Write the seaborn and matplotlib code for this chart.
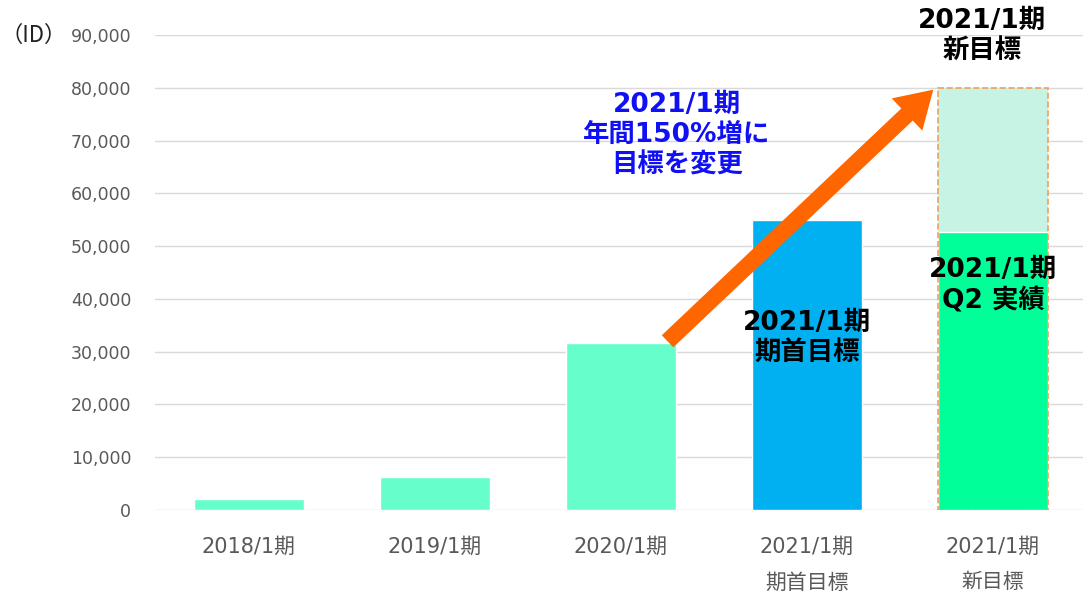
import matplotlib
matplotlib.use('Agg')
import matplotlib.pyplot as plt
import seaborn as sns

# データ
categories = ['2018/1期', '2019/1期', '2020/1期', '2021/1期\n期首目標', '2021/1期\n新目標']
values = [2000, 6200, 31600, 55000, 52600]
new_target = 80000
bar_colors = ['#66FFCC', '#66FFCC', '#66FFCC', '#00B0F0', '#00FF99']
y_ticks = list(range(0, 90001, 10000))

sns.set_theme(style='white')
plt.rcParams['font.family'] = ['DejaVu Sans', 'Noto Sans CJK JP']

fig = plt.figure(figsize=(10.83, 5.96), dpi=100)
ax = fig.add_axes([0.143, 0.1443, 0.857, 0.797])

bw = 0.59
# 新目標（背景）
ax.bar(4, new_target, width=bw, color='#C4F3E3', alpha=0.95, zorder=1, linewidth=0)

sns.barplot(x=categories, y=values, hue=categories, palette=bar_colors,
            width=bw, legend=False, ax=ax, zorder=2, saturation=1)

# 破線の枠
ax.bar(4, new_target, width=bw, fill=False, edgecolor='#F0A060', linestyle='--',
       linewidth=1.2, zorder=3)

ax.set_xlim(-0.505, 4.484)
ax.set_ylim(0, 90000)
ax.set_yticks(y_ticks)
ax.set_yticklabels([f'{v:,}' for v in y_ticks], color='#595959', fontsize=12.5)
ax.set_xticks(range(len(categories)))
ax.set_xticklabels(categories, color='#595959', fontsize=15, linespacing=2.0, va='top')
ax.tick_params(axis='x', pad=19, length=0)
ax.tick_params(axis='y', pad=17, length=0)
ax.yaxis.grid(True, color='#D9D9D9', linewidth=1)
ax.set_axisbelow(True)
for s in ax.spines.values():
    s.set_visible(False)
ax.set_xlabel('')
ax.set_ylabel('')

fig.text(0.0, 0.941, '（ID）', fontsize=16, color='#222222', va='center', ha='left',
         family=['Noto Sans CJK JP'])

# 矢印
ax.annotate('', xy=(3.69, new_target), xytext=(2.24, values[2]),
            arrowprops=dict(arrowstyle='simple,head_width=1.6,head_length=1.3,tail_width=0.6',
                            color='#FF6600', lw=0, mutation_scale=20),
            zorder=4, annotation_clip=False)

lab = dict(fontsize=19, fontweight='bold', ha='center', va='center', linespacing=1.2)
ax.text(2.30, 71000, '2021/1期\n年間150%増に\n目標を変更', color='#1010F5', **lab)
ax.text(3.0, 32600, '2021/1期\n期首目標', color='black', **lab)
ax.text(4.0, 42600, '2021/1期\nQ2 実績', color='black', **lab)
ax.text(3.94, 89800, '2021/1期\n新目標', color='black', clip_on=False, **lab)

fig.savefig('out.png', dpi=100)
